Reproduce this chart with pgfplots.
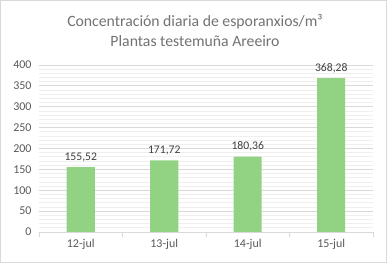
\documentclass[border=0pt]{standalone}
\usepackage{pgfplots}
\pgfplotsset{compat=1.18}
\usepackage{fontspec}
\setmainfont{Carlito}
\definecolor{txt}{HTML}{595959}
\definecolor{lbl}{HTML}{404040}
\definecolor{barg}{HTML}{92D283}
\definecolor{gmaj}{HTML}{D9D9D9}
\definecolor{gmin}{HTML}{EFEFEF}
\begin{document}
\begin{tikzpicture}[x=1bp,y=1bp]
\useasboundingbox (0,0) rectangle (387,263);
\draw[gmaj,line width=0.8bp] (0.5,0.5) rectangle (386.5,262.5);
\node[anchor=base,text=txt!85,font=\fontsize{15.8}{19}\selectfont] at (195,237) {Concentración diaria de esporanxios/m³};
\node[anchor=base,text=txt!85,font=\fontsize{15.8}{19}\selectfont] at (195,217) {Plantas testemuña Areeiro};
\begin{axis}[
  at={(39bp,31bp)}, anchor=south west,
  scale only axis, width=334bp, height=167bp,
  xmin=-0.5, xmax=3.5, ymin=0, ymax=400,
  ytick={0,50,...,400},
  xtick={0,1,2,3},
  xticklabels={12-jul,13-jul,14-jul,15-jul},
  major tick length=0pt,
  axis x line*=bottom, axis y line*=left,
  x axis line style={draw=gmaj,line width=0.8bp},
  y axis line style={draw=none},
  ymajorgrids, major grid style={draw=gmaj,line width=0.8bp},
  extra y ticks={10,20,30,40,60,70,80,90,110,120,130,140,160,170,180,190,210,220,230,240,260,270,280,290,310,320,330,340,360,370,380,390},
  extra y tick labels={},
  extra y tick style={grid=major, major grid style={draw=gmin,line width=0.8bp}},
  extra x ticks={-0.5,0.5,1.5,2.5,3.5},
  extra x tick labels={},
  extra x tick style={major tick length=5bp, tick align=outside, xtick style={draw=gmaj,line width=0.8bp}},
  tick label style={text=txt,font=\fontsize{12}{14}\selectfont},
  /pgf/number format/assume math mode=true,
  yticklabel style={xshift=-4bp},
  xticklabel style={yshift=-4bp},
  ybar, bar width=28bp,
  nodes near coords,
  nodes near coords style={text=lbl,font=\fontsize{11.7}{14}\selectfont, anchor=base, yshift=7bp,
    /pgf/number format/.cd, fixed, fixed zerofill, precision=2, use comma, assume math mode=true},
]
\addplot[fill=barg, draw=none] coordinates {(0,155.52) (1,171.72) (2,180.36) (3,368.28)};
\end{axis}
\end{tikzpicture}
\end{document}
